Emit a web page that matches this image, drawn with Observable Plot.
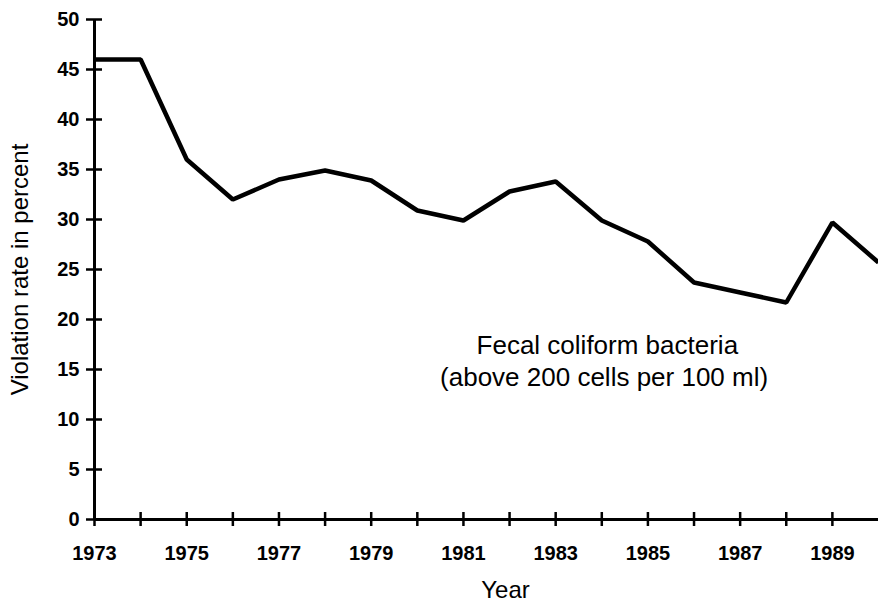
<!DOCTYPE html>
<html>
<head>
<meta charset="utf-8">
<script src="https://cdn.jsdelivr.net/npm/d3@7"></script>
<script src="https://cdn.jsdelivr.net/npm/@observablehq/plot@0.6"></script>
<style>
  html, body { margin: 0; padding: 0; background: #fff; }
  svg { display: block; }
</style>
</head>
<body>
<div id="chart"></div>
<script>
const years = [1973, 1974, 1975, 1976, 1977, 1978, 1979, 1980, 1981, 1982, 1983, 1984, 1985, 1986, 1987, 1988, 1989, 1990];
const violationRate = [46, 46, 36, 32, 34, 34.9, 33.9, 30.9, 29.9, 32.8, 33.8, 29.9, 27.8, 23.7, 22.7, 21.7, 29.7, 25.7];
const yTicks = [0, 5, 10, 15, 20, 25, 30, 35, 40, 45, 50];
const xTicks = [1973, 1974, 1975, 1976, 1977, 1978, 1979, 1980, 1981, 1982, 1983, 1984, 1985, 1986, 1987, 1988, 1989];
const xTickLabels = [1973, 1975, 1977, 1979, 1981, 1983, 1985, 1987, 1989];
const yLabel = "Violation rate in percent";
const xLabel = "Year";
const note1 = "Fecal coliform bacteria";
const note2 = "(above 200 cells per 100 ml)";

const data = years.map((y, i) => ({year: y, rate: violationRate[i]}));

const chart = Plot.plot({
  width: 878,
  height: 607,
  marginLeft: 94,
  marginRight: 0,
  marginTop: 19,
  marginBottom: 88,
  style: {fontFamily: "'Liberation Sans', Arial, Helvetica, sans-serif", color: "#000", background: "#fff"},
  x: {domain: [1973, 1990]},
  y: {domain: [0, 50]},
  marks: [
    // axis lines
    Plot.ruleX([1973], {y1: 0, y2: 50, stroke: "#000", strokeWidth: 3}),
    Plot.ruleY([0], {x1: 1973, x2: 1990, stroke: "#000", strokeWidth: 3}),
    // crossing ticks
    Plot.axisY(yTicks, {tickSize: 16, dx: 8, text: null, label: null, strokeWidth: 2.5, stroke: "#000"}),
    Plot.axisX(xTicks, {tickSize: 14, dy: -7, text: null, label: null, strokeWidth: 2.5, stroke: "#000"}),
    // tick labels
    Plot.axisY(yTicks, {tickSize: 0, tickPadding: 15, label: null, fontSize: 20, fontWeight: "bold", fill: "#000"}),
    Plot.axisX(xTickLabels, {tickSize: 0, tickPadding: 26, label: null, fontSize: 20, fontWeight: "bold", fill: "#000", tickFormat: d => String(d)}),
    // data line
    Plot.line(data, {x: "year", y: "rate", stroke: "#000", strokeWidth: 4.5, strokeLinejoin: "miter", strokeLinecap: "butt", clip: true}),
    // axis titles
    Plot.text([yLabel], {frameAnchor: "left", textAnchor: "middle", dx: -74, rotate: -90, fontSize: 24, fill: "#000", text: d => d}),
    Plot.text([xLabel], {frameAnchor: "bottom", textAnchor: "middle", dx: 19, dy: 78, fontSize: 24, fill: "#000", text: d => d}),
    // annotation
    Plot.text([note1], {x: 1984.12, y: 17.4, fontSize: 26, fill: "#000", text: d => d}),
    Plot.text([note2], {x: 1984.05, y: 14.2, fontSize: 26, fill: "#000", text: d => d})
  ]
});
document.getElementById("chart").append(chart);
</script>
</body>
</html>
